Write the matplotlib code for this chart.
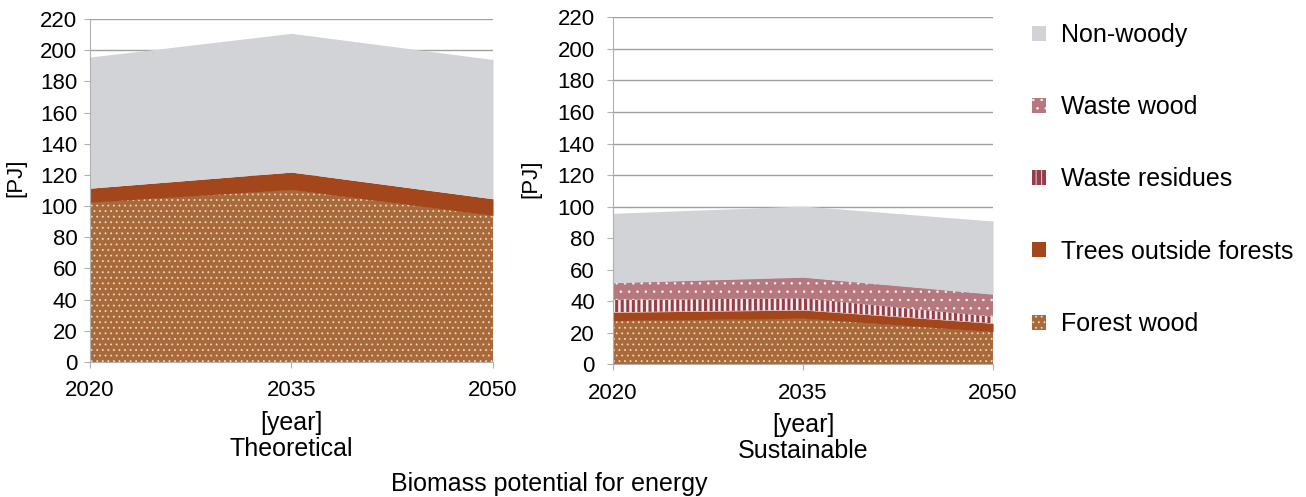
import matplotlib.pyplot as plt
from matplotlib.patches import Patch
import numpy as np

plt.rcParams['font.family'] = ['Liberation Sans', 'DejaVu Sans']
plt.rcParams['hatch.linewidth'] = 0.6

years = [2020, 2035, 2050]

# Theoretical potential [PJ], per layer (not cumulative)
theo_forest = [102.5, 110.6, 94.0]
theo_trees = [9.0, 11.2, 10.7]
theo_nonwoody = [84.1, 89.0, 89.3]

# Sustainable potential [PJ]
sust_forest = [27.8, 29.3, 20.8]
sust_trees = [5.3, 5.2, 5.3]
sust_residues = [7.8, 7.5, 4.2]
sust_wastewood = [10.9, 13.3, 14.2]
sust_nonwoody = [44.0, 45.1, 46.4]

labels = ['Forest wood', 'Trees outside forests', 'Waste residues', 'Waste wood', 'Non-woody']
colors = {'Forest wood': '#a86a3b', 'Trees outside forests': '#a4461c',
          'Waste residues': '#963d49', 'Waste wood': '#b5787f', 'Non-woody': '#d1d3d6'}
hatches = {'Forest wood': '...', 'Trees outside forests': None,
           'Waste residues': '|||', 'Waste wood': '..', 'Non-woody': None}
hatch_col = {'Forest wood': '#efd6bd', 'Waste residues': '#f6eeee', 'Waste wood': '#f6eeee'}
hatch_lw = {'Waste residues': 1.8}


def edge(name):
    return hatch_col.get(name, colors[name])


def stacked(ax, layers):
    base = np.zeros(len(years))
    for name, vals in layers:
        top = base + np.array(vals)
        with plt.rc_context({'hatch.linewidth': hatch_lw.get(name, 0.6)}):
            ax.fill_between(years, base, top, facecolor=colors[name], edgecolor=edge(name),
                            hatch=hatches[name], linewidth=0)
        base = top


def style(ax, pad, ylab_x):
    ax.set_xlim(2020, 2050)
    ax.set_ylim(0, 220)
    ax.set_xticks(years)
    ax.set_yticks(range(0, 221, 20))
    ax.set_axisbelow(True)
    ax.yaxis.grid(True, color='#a0a0a0', linewidth=1.0)
    for s in ['top', 'right']:
        ax.spines[s].set_visible(False)
    for s in ['left', 'bottom']:
        ax.spines[s].set_color('#b0b0b0')
    ax.tick_params(axis='y', length=4, color='#b0b0b0', labelsize=16, pad=pad)
    ax.tick_params(axis='x', length=4, color='#b0b0b0', labelsize=16, pad=9)
    ax.set_ylabel('[PJ]', fontsize=16)
    ax.yaxis.set_label_coords(ylab_x, 0.536)


fig = plt.figure(figsize=(13.06, 4.97), dpi=100)
ax1 = fig.add_axes([0.0689, 0.2716, 0.3086, 0.6902])
ax2 = fig.add_axes([0.4694, 0.2666, 0.2910, 0.6986])

stacked(ax1, [('Forest wood', theo_forest), ('Trees outside forests', theo_trees),
              ('Non-woody', theo_nonwoody)])
stacked(ax2, [('Forest wood', sust_forest), ('Trees outside forests', sust_trees),
              ('Waste residues', sust_residues), ('Waste wood', sust_wastewood),
              ('Non-woody', sust_nonwoody)])
style(ax1, 5, -0.159)
style(ax2, 9, -0.189)
ax1.set_xlabel('[year]\nTheoretical', fontsize=18, linespacing=1.1, labelpad=7)
ax2.set_xlabel('[year]\nSustainable', fontsize=18, linespacing=1.1, labelpad=7)

fig.text(391 / 1306, 1 - 484 / 497, 'Biomass potential for energy', fontsize=18,
         ha='left', va='center')

handles = []
for n in labels[::-1]:
    with plt.rc_context({'hatch.linewidth': hatch_lw.get(n, 0.6)}):
        handles.append(Patch(facecolor=colors[n], edgecolor=edge(n), hatch=hatches[n],
                             linewidth=0))
fig.legend(handles, labels[::-1], loc='upper left',
           bbox_to_anchor=(1022 / 1306, 1 - 13 / 497), borderaxespad=0,
           frameon=False, fontsize=18, handlelength=0.55, handleheight=0.55,
           handletextpad=0.62, labelspacing=1.93)

fig.savefig('out.png', dpi=100)
